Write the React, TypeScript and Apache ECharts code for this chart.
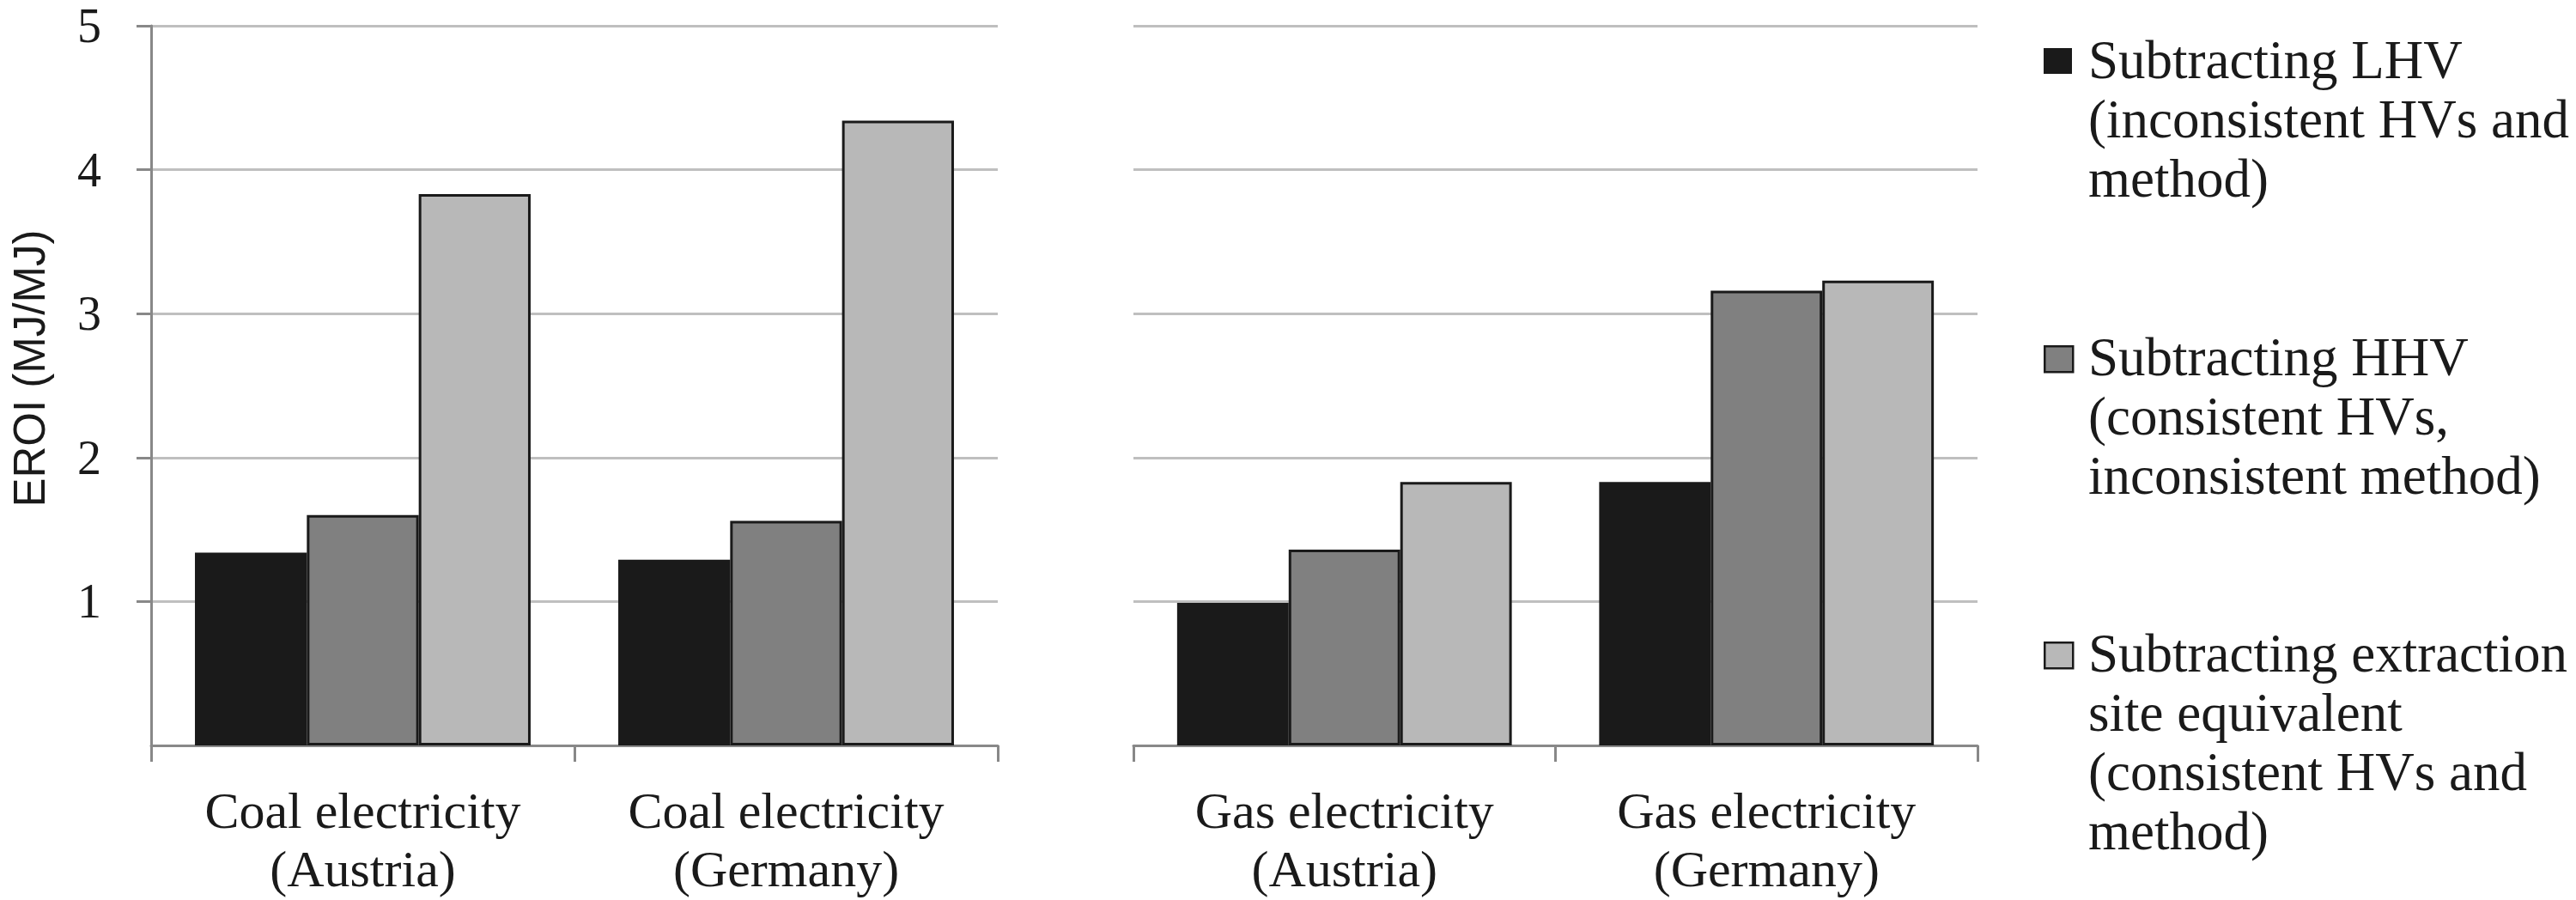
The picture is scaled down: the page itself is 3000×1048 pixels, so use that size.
import React, { useEffect, useRef } from "react";
import * as echarts from "echarts";

const coalCategories = ["Coal electricity\n(Austria)", "Coal electricity\n(Germany)"];
const gasCategories = ["Gas electricity\n(Austria)", "Gas electricity\n(Germany)"];

const seriesNames = [
  "Subtracting LHV\n(inconsistent HVs and\nmethod)",
  "Subtracting HHV\n(consistent HVs,\ninconsistent method)",
  "Subtracting extraction\nsite equivalent\n(consistent HVs and\nmethod)",
];

// values: [Coal Austria, Coal Germany]
const coalLHV = [1.34, 1.29];
const coalHHV = [1.6, 1.56];
const coalExtraction = [3.83, 4.34];
// values: [Gas Austria, Gas Germany]
const gasLHV = [0.99, 1.83];
const gasHHV = [1.36, 3.16];
const gasExtraction = [1.83, 3.23];

const yTicks = [0, 1, 2, 3, 4, 5];

const colors = ["#1a1a1a", "#808080", "#b8b8b8"];

const App: React.FC = () => {
  const ref = useRef<HTMLDivElement>(null);

  useEffect(() => {
    if (!ref.current) return;
    const chart = echarts.init(ref.current, null, { renderer: "svg" });

    const serif = "'Liberation Serif', 'DejaVu Serif', serif";
    const axisGrey = "#888888";
    const gridGrey = "#bfbfbf";

    const makeXAxis = (gridIndex: number, data: string[]) => ({
      type: "category",
      gridIndex,
      data,
      axisLine: { show: true, lineStyle: { color: axisGrey, width: 3 } },
      axisTick: { show: true, length: 19, lineStyle: { color: axisGrey, width: 3 } },
      axisLabel: {
        fontFamily: serif,
        fontSize: 60,
        lineHeight: 68,
        color: "#1a1a1a",
        margin: 42,
        interval: 0,
      },
      splitLine: { show: false },
    });

    const makeYAxis = (gridIndex: number, showAxis: boolean) => ({
      type: "value",
      gridIndex,
      min: yTicks[0],
      max: yTicks[yTicks.length - 1],
      interval: 1,
      name: showAxis ? "EROI (MJ/MJ)" : "",
      nameLocation: "middle",
      nameRotate: 90,
      nameGap: 116,
      nameTextStyle: {
        fontFamily: "'Liberation Sans', Arial, sans-serif",
        fontSize: 51,
        color: "#1a1a1a",
        padding: [0, 0, 0, 40],
      },
      axisLine: { show: showAxis, lineStyle: { color: axisGrey, width: 3 } },
      axisTick: { show: showAxis, length: 17, lineStyle: { color: axisGrey, width: 3 } },
      axisLabel: {
        show: showAxis,
        showMinLabel: false,
        fontFamily: serif,
        fontSize: 56,
        lineHeight: 48,
        color: "#1a1a1a",
        margin: 58,
      },
      splitLine: { show: true, lineStyle: { color: gridGrey, width: 3 } },
    });

    const groups = [
      [coalLHV, coalHHV, coalExtraction],
      [gasLHV, gasHHV, gasExtraction],
    ];

    const series: any[] = [];
    groups.forEach((vals, gi) => {
      vals.forEach((arr, si) => {
        series.push({
          type: "bar",
          name: seriesNames[si],
          xAxisIndex: gi,
          yAxisIndex: gi,
          data: arr,
          barGap: "0%",
          barCategoryGap: "20.7%",
          itemStyle: {
            color: colors[si],
            borderColor: "#1a1a1a",
            borderWidth: si === 0 ? 0 : 3,
          },
        });
      });
    });

    const legendTops = [36, 382, 727];
    const legendGraphics: any[] = [];
    seriesNames.forEach((name, i) => {
      legendGraphics.push({
        type: "rect",
        left: 2380,
        top: legendTops[i] + 20,
        shape: { width: 33, height: 30 },
        style: {
          fill: colors[i],
          stroke: i === 0 ? colors[0] : "#1a1a1a",
          lineWidth: i === 0 ? 0 : 2.5,
        },
      });
      legendGraphics.push({
        type: "text",
        left: 2432,
        top: legendTops[i] - 1,
        style: {
          text: name,
          fontFamily: serif,
          fontSize: 63,
          lineHeight: 69,
          fill: "#1a1a1a",
        },
      });
    });

    chart.setOption({
      animation: false,
      backgroundColor: "#ffffff",
      grid: [
        { left: 176, width: 986, top: 30, bottom: 180 },
        { left: 1320, width: 983, top: 30, bottom: 180 },
      ],
      xAxis: [makeXAxis(0, coalCategories), makeXAxis(1, gasCategories)],
      yAxis: [makeYAxis(0, true), makeYAxis(1, false)],
      series,
      graphic: legendGraphics,
    });

    return () => {
      chart.dispose();
    };
  }, []);

  return (
    <div
      ref={ref}
      style={{ position: "fixed", left: 0, top: 0, width: 3000, height: 1048, background: "#fff" }}
    />
  );
};

export default App;
